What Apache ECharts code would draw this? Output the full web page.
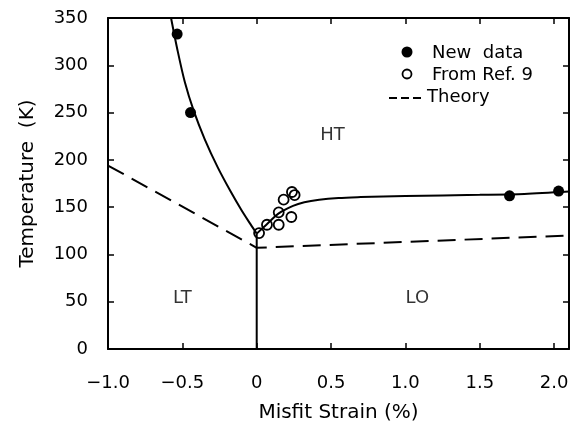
<!DOCTYPE html>
<html>
<head>
<meta charset="utf-8">
<script src="https://cdn.jsdelivr.net/npm/echarts@6/dist/echarts.min.js"></script>
<style>
html, body { margin: 0; padding: 0; background: #fff; }
#main { width: 577px; height: 426px; }
</style>
</head>
<body>
<div id="main"></div>
<script>
// misfit strain (%) vs temperature (K)
var xTicks = [-1.0, -0.5, 0, 0.5, 1.0, 1.5, 2.0];
var yTicks = [0, 50, 100, 150, 200, 250, 300, 350];

var newDataX = [-0.535, -0.445, 1.70, 2.03];
var newDataY = [333, 250, 162, 167];

var refX = [0.016, 0.069, 0.148, 0.148, 0.181, 0.233, 0.237, 0.255];
var refY = [122.6, 131.4, 131.4, 144.5, 157.9, 139.6, 166, 162.8];

// theory (dashed)
var theoryX = [-1.0, 0, 2.1];
var theoryY = [194, 107, 120];

// fitted boundary HT / LT
var leftFitX = [-0.576, -0.534, -0.483, -0.424, -0.35, -0.262, -0.177, -0.103, -0.042, 0];
var leftFitY = [350, 317, 282, 252, 222, 192, 167, 147, 132, 122];
// fitted boundary HT / LO
var rightFitX = [0, 0.065, 0.148, 0.244, 0.32, 0.42, 0.55, 0.7, 0.85, 1.0, 1.5, 1.8, 2.1];
var rightFitY = [122, 131.4, 143.4, 151.4, 155.2, 157.8, 159.6, 160.6, 161.3, 161.8, 163, 164, 166.5];
// boundary LT / LO
var vertX = [0, 0];
var vertY = [0, 122];

var regionNames = ['HT', 'LT', 'LO'];
var regionX = [0.51, -0.50, 1.08];
var regionY = [226, 54, 54];

function pairs(xs, ys) {
    var out = [];
    for (var i = 0; i < xs.length; i++) out.push([xs[i], ys[i]]);
    return out;
}

var font = 'DejaVu Sans';
var chart = echarts.init(document.getElementById('main'));

function xAxisOpt(pos, showLabel) {
    return {
        type: 'value', position: pos, min: -1.0, max: 2.1, interval: 0.5,
        name: showLabel ? 'Misfit Strain (%)' : '',
        nameLocation: 'middle', nameGap: 54,
        nameTextStyle: { color: '#000', fontSize: 20, fontFamily: font },
        axisLine: { onZero: false, lineStyle: { color: '#000', width: 2 } },
        axisTick: { show: true, inside: true, length: 6, lineStyle: { width: 1.5, color: '#000' }, customValues: xTicks },
        axisLabel: {
            show: showLabel, margin: 25, color: '#000', fontSize: 18, fontFamily: font,
            customValues: xTicks,
            formatter: function (v) { return v === 0 ? '0' : v.toFixed(1).replace('-', '\u2212'); }
        },
        splitLine: { show: false }
    };
}

function yAxisOpt(pos, showLabel) {
    return {
        type: 'value', position: pos, min: 0, max: 350, interval: 50,
        name: showLabel ? 'Temperature  (K)' : '',
        nameLocation: 'middle', nameGap: 70,
        nameTextStyle: { color: '#000', fontSize: 20, fontFamily: font },
        axisLine: { onZero: false, lineStyle: { color: '#000', width: 2 } },
        axisTick: { show: true, inside: true, length: 6, lineStyle: { width: 1.5, color: '#000' }, customValues: yTicks },
        axisLabel: { show: showLabel, margin: 20, color: '#000', fontSize: 18, fontFamily: font, customValues: yTicks },
        splitLine: { show: false }
    };
}

var option = {
    animation: false,
    backgroundColor: '#fff',
    grid: { left: 108, right: 8, top: 18, bottom: 77, outerBoundsMode: 'none' },
    xAxis: [xAxisOpt('bottom', true), xAxisOpt('top', false)],
    yAxis: [yAxisOpt('left', true), yAxisOpt('right', false)],
    series: [
        {
            name: 'Theory', type: 'line', data: pairs(theoryX, theoryY),
            showSymbol: false, lineStyle: { color: '#000', width: 2, type: [18, 9] }, z: 2
        },
        {
            name: 'fitLeft', type: 'line', data: pairs(leftFitX, leftFitY),
            showSymbol: false, smooth: 0.3, lineStyle: { color: '#000', width: 2 }, z: 2
        },
        {
            name: 'fitRight', type: 'line', data: pairs(rightFitX, rightFitY),
            showSymbol: false, smooth: 0.3, lineStyle: { color: '#000', width: 2 }, z: 2
        },
        {
            name: 'boundary', type: 'line', data: pairs(vertX, vertY),
            showSymbol: false, lineStyle: { color: '#000', width: 2 }, z: 2
        },
        {
            name: 'New data', type: 'scatter', data: pairs(newDataX, newDataY),
            symbol: 'circle', symbolSize: 11, itemStyle: { color: '#000', opacity: 1 }, z: 5
        },
        {
            name: 'From Ref. 9', type: 'scatter', data: pairs(refX, refY),
            symbol: 'circle', symbolSize: 10,
            itemStyle: { color: 'rgba(0,0,0,0)', borderColor: '#000', borderWidth: 1.8, opacity: 1 }, z: 5
        },
        {
            name: 'regions', type: 'scatter', symbolSize: 0, silent: true,
            data: regionNames.map(function (n, i) { return { name: n, value: [regionX[i], regionY[i]] }; }),
            label: {
                show: true, position: 'inside', formatter: '{b}',
                color: '#000', fontSize: 18, fontFamily: font
            }
        }
    ],
    graphic: [
        { type: 'circle', shape: { cx: 407, cy: 52, r: 5.5 }, style: { fill: '#000' } },
        { type: 'text', x: 432, y: 53, style: { text: 'New  data', font: '18px "DejaVu Sans"', fill: '#000', verticalAlign: 'middle' } },
        { type: 'circle', shape: { cx: 407, cy: 74, r: 4.5 }, style: { fill: 'none', stroke: '#000', lineWidth: 1.8 } },
        { type: 'text', x: 432, y: 75, style: { text: 'From Ref. 9', font: '18px "DejaVu Sans"', fill: '#000', verticalAlign: 'middle' } },
        { type: 'line', shape: { x1: 389, y1: 98, x2: 425, y2: 98 }, style: { stroke: '#000', lineWidth: 2, lineDash: [8, 4] } },
        { type: 'text', x: 427, y: 97, style: { text: 'Theory', font: '18px "DejaVu Sans"', fill: '#000', verticalAlign: 'middle' } }
    ]
};
chart.setOption(option);
</script>
</body>
</html>
